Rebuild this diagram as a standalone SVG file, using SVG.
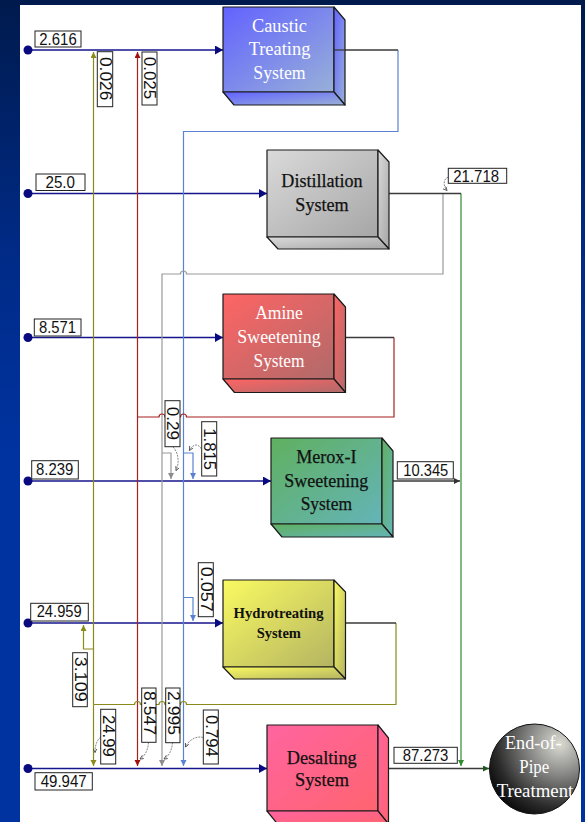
<svg xmlns="http://www.w3.org/2000/svg" width="585" height="822" viewBox="0 0 585 822">
  <defs>
    <linearGradient id="bg" x1="0" y1="0" x2="0" y2="1">
      <stop offset="0" stop-color="#001a4d"/>
      <stop offset="0.3" stop-color="#002a85"/>
      <stop offset="0.55" stop-color="#0033a0"/>
      <stop offset="1" stop-color="#0033a0"/>
    </linearGradient>
    <linearGradient id="gCaustic" x1="0" y1="0" x2="1" y2="1">
      <stop offset="0" stop-color="#6262ff"/>
      <stop offset="1" stop-color="#98b0d8"/>
    </linearGradient>
    <linearGradient id="gDist" x1="0" y1="0" x2="1" y2="1">
      <stop offset="0" stop-color="#dadada"/>
      <stop offset="1" stop-color="#a6a6a6"/>
    </linearGradient>
    <linearGradient id="gAmine" x1="0" y1="0" x2="1" y2="1">
      <stop offset="0" stop-color="#ff6464"/>
      <stop offset="1" stop-color="#b06a6a"/>
    </linearGradient>
    <linearGradient id="gMerox" x1="0" y1="0" x2="1" y2="1">
      <stop offset="0" stop-color="#60b060"/>
      <stop offset="1" stop-color="#64b4b8"/>
    </linearGradient>
    <linearGradient id="gHydro" x1="0" y1="0" x2="1" y2="1">
      <stop offset="0" stop-color="#fafa62"/>
      <stop offset="1" stop-color="#b4b462"/>
    </linearGradient>
    <linearGradient id="gDesalt" x1="0" y1="0" x2="1" y2="1">
      <stop offset="0" stop-color="#ff64a0"/>
      <stop offset="1" stop-color="#ff6470"/>
    </linearGradient>
    <radialGradient id="gPipe" cx="0.78" cy="0.22" r="0.95">
      <stop offset="0" stop-color="#dcdcd4"/>
      <stop offset="0.35" stop-color="#8a8a88"/>
      <stop offset="0.75" stop-color="#2a2a2a"/>
      <stop offset="1" stop-color="#000"/>
    </radialGradient>

    <marker id="aNavy" markerUnits="userSpaceOnUse" markerWidth="9" markerHeight="10" refX="8" refY="4.5" orient="auto">
      <path d="M0,0 L8,4.5 L0,9 z" fill="#0a0a80"/>
    </marker>
    <marker id="aBlue" markerUnits="userSpaceOnUse" markerWidth="7" markerHeight="7" refX="6" refY="3" orient="auto">
      <path d="M0,0 L6,3 L0,6 z" fill="#5b82d2"/>
    </marker>
    <marker id="aGray" markerUnits="userSpaceOnUse" markerWidth="7" markerHeight="7" refX="6" refY="3" orient="auto">
      <path d="M0,0 L6,3 L0,6 z" fill="#8c8c8c"/>
    </marker>
    <marker id="aOlive" markerUnits="userSpaceOnUse" markerWidth="7" markerHeight="7" refX="6" refY="3" orient="auto">
      <path d="M0,0 L6,3 L0,6 z" fill="#8a8a1a"/>
    </marker>
    <marker id="aRed" markerUnits="userSpaceOnUse" markerWidth="7" markerHeight="7" refX="6" refY="3" orient="auto">
      <path d="M0,0 L6,3 L0,6 z" fill="#a01010"/>
    </marker>
    <marker id="aGreen" markerUnits="userSpaceOnUse" markerWidth="7" markerHeight="7" refX="6" refY="3" orient="auto">
      <path d="M0,0 L6,3 L0,6 z" fill="#2e8b2e"/>
    </marker>
    <marker id="aDark" markerUnits="userSpaceOnUse" markerWidth="7" markerHeight="7" refX="6" refY="3" orient="auto">
      <path d="M0,0 L6,3 L0,6 z" fill="#333"/>
    </marker>
    <marker id="aDkGreen" markerUnits="userSpaceOnUse" markerWidth="7" markerHeight="7" refX="6" refY="3" orient="auto">
      <path d="M0,0 L6,3 L0,6 z" fill="#1e5a1e"/>
    </marker>
    <marker id="aLead" markerUnits="userSpaceOnUse" markerWidth="5" markerHeight="5" refX="4" refY="2" orient="auto">
      <path d="M0,0 L4,2 L0,4" fill="none" stroke="#444" stroke-width="0.8"/>
    </marker>
  </defs>

  <style>
    .panel { fill: #ffffff; }
    .face { stroke: #1a1a1a; stroke-width: 1.2; stroke-linejoin: round; }
    .t-white { font-family: "Liberation Serif", "Times New Roman", serif; font-size: 19.5px; fill: #ffffff; text-anchor: middle; }
    .t-black { font-family: "Liberation Serif", "Times New Roman", serif; font-size: 19.5px; fill: #111111; stroke: #111111; stroke-width: 0.25; text-anchor: middle; }
    .t-hydro { font-family: "Liberation Serif", "Times New Roman", serif; font-size: 15px; font-weight: bold; fill: #111111; text-anchor: middle; }
    .lbl rect { fill: #ffffff; stroke: #222; stroke-width: 1; }
    .lbl text { font-family: "Liberation Sans", Arial, sans-serif; font-size: 16.5px; fill: #111; }
    .feed { fill: none; stroke: #14148c; stroke-width: 1.5; }
    .out { fill: none; stroke: #3a3a3a; stroke-width: 1.3; }
    .blue { fill: none; stroke: #5b82d2; stroke-width: 1.2; }
    .gray { fill: none; stroke: #999999; stroke-width: 1.2; }
    .red { fill: none; stroke: #a82020; stroke-width: 1.2; }
    .olive { fill: none; stroke: #8a8a1a; stroke-width: 1.2; }
    .green { fill: none; stroke: #2e8b2e; stroke-width: 1.2; }
    .lead { fill: none; stroke: #555; stroke-width: 0.7; stroke-dasharray: 2 1; }
    .dot { fill: #0a0a80; }
  </style>

  <!-- background and white page -->
  <rect x="0" y="0" width="585" height="822" fill="url(#bg)"/>
  <rect class="panel" x="20" y="5" width="561" height="817"/>

  <!-- connectors -->
  <g id="connectors">
    <!-- feed streams -->
    <path class="feed" d="M28,50 H223" marker-end="url(#aNavy)"/>
    <path class="feed" d="M28,193.5 H267" marker-end="url(#aNavy)"/>
    <path class="feed" d="M28,337.5 H223" marker-end="url(#aNavy)"/>
    <path class="feed" d="M28,481 H271" marker-end="url(#aNavy)"/>
    <path class="feed" d="M28,623 H223" marker-end="url(#aNavy)"/>
    <path class="feed" d="M28,768.5 H267" marker-end="url(#aNavy)"/>
    <circle class="dot" cx="28" cy="50" r="4.5"/>
    <circle class="dot" cx="28" cy="193.5" r="4.5"/>
    <circle class="dot" cx="28" cy="337.5" r="4.5"/>
    <circle class="dot" cx="28" cy="481" r="4.5"/>
    <circle class="dot" cx="28" cy="623" r="4.5"/>
    <circle class="dot" cx="28" cy="768.5" r="4.5"/>

    <!-- caustic outlet (blue) -->
    <path class="blue" d="M398,50 V131.5 H183.5 V766" marker-end="url(#aBlue)"/>
    <path class="blue" d="M183.5,453 H193 V479" marker-end="url(#aBlue)"/>
    <path class="blue" d="M183.5,597.5 H193 V621" marker-end="url(#aBlue)"/>

    <!-- distillation outlet (gray recycle and green to treatment) -->
    <path class="gray" d="M443,193.5 V274 H186.5 A3,3 0 0 0 180.5,274 H162 V766" marker-end="url(#aGray)"/>
    <path class="gray" d="M162,453 H171 V479" marker-end="url(#aGray)"/>
    <path class="green" d="M461,193.5 V766" marker-end="url(#aGreen)"/>

    <!-- amine outlet (red) -->
    <path class="red" d="M394,337.5 V417 H186.5 A3,3 0 0 0 180.5,417 H165 A3,3 0 0 0 159,417 H137.5"/>
    <path class="red" d="M137.5,417 V52" marker-end="url(#aRed)"/>
    <path class="red" d="M137.5,417 V766" marker-end="url(#aRed)"/>

    <!-- hydrotreating outlet (olive) -->
    <path class="olive" d="M396,623 V704.5 H186.5 A3,3 0 0 0 180.5,704.5 H165 A3,3 0 0 0 159,704.5 H140.5 A3,3 0 0 0 134.5,704.5 H93.5"/>
    <path class="olive" d="M93.5,704.5 V52" marker-end="url(#aOlive)"/>
    <path class="olive" d="M93.5,704.5 V766" marker-end="url(#aOlive)"/>
    <path class="olive" d="M93.5,649 H83.5 V625" marker-end="url(#aOlive)"/>

    <!-- unit outlet stubs -->
    <path class="out" d="M334,50 H398"/>
    <path class="out" d="M388.7,193.5 H461"/>
    <path class="out" d="M345.7,337.5 H394"/>
    <path class="out" d="M393,481 H460" marker-end="url(#aDark)"/>
    <path class="out" d="M345.7,623 H396"/>
    <path class="out" d="M388.3,768.5 H489" stroke="#1e4a1e" marker-end="url(#aDkGreen)"/>

    <!-- leader curves from flow labels -->
    <path class="lead" d="M448.3,177 C443,179 443,186 447,190.5" marker-end="url(#aLead)"/>
    <path class="lead" d="M173,447 C178,452 180,462 176,470.5" marker-end="url(#aLead)"/>
    <path class="lead" d="M201.5,449 C198,443 193,444 189.5,450.5" marker-end="url(#aLead)"/>
    <path class="lead" d="M100.7,737 C96,741 95,747 95,752.5" marker-end="url(#aLead)"/>
    <path class="lead" d="M148.5,742.5 C148,750 145,756 140,759" marker-end="url(#aLead)"/>
    <path class="lead" d="M172.5,742.5 C172,750 169,756 164,759" marker-end="url(#aLead)"/>
    <path class="lead" d="M203.3,737.5 C196,735.5 189,740 185.5,747" marker-end="url(#aLead)"/>
  </g>

  <!-- process units -->
  <g id="caustic">
    <rect class="face" x="223" y="7" width="111" height="85" fill="url(#gCaustic)"/>
    <polygon class="face" points="334,7 345,20 345,105 334,92" fill="url(#gCaustic)"/>
    <polygon class="face" points="223,92 334,92 345,105 234,105" fill="url(#gCaustic)"/>
    <path class="out" d="M334,50 H345"/>
    <text class="t-white" x="279.5" y="31.5" textLength="55" lengthAdjust="spacingAndGlyphs">Caustic</text>
    <text class="t-white" x="279.5" y="55" textLength="61.7" lengthAdjust="spacingAndGlyphs">Treating</text>
    <text class="t-white" x="279.5" y="78.5" textLength="52.4" lengthAdjust="spacingAndGlyphs">System</text>
  </g>

  <g id="distillation">
    <rect class="face" x="267" y="150" width="111" height="87" fill="url(#gDist)"/>
    <polygon class="face" points="378,150 389,162 389,249 378,237" fill="url(#gDist)"/>
    <polygon class="face" points="267,237 378,237 389,249 278,249" fill="url(#gDist)"/>
    <text class="t-black" x="322" y="187.3" textLength="81.3" lengthAdjust="spacingAndGlyphs">Distillation</text>
    <text class="t-black" x="322" y="211" textLength="53.3" lengthAdjust="spacingAndGlyphs">System</text>
  </g>

  <g id="amine">
    <rect class="face" x="223" y="294" width="111" height="85" fill="url(#gAmine)"/>
    <polygon class="face" points="334,294 345.5,307 345.5,392.5 334,379" fill="url(#gAmine)"/>
    <polygon class="face" points="223,379 334,379 345.5,392.5 234.5,392.5" fill="url(#gAmine)"/>
    <text class="t-white" x="279" y="319.3" textLength="47.7" lengthAdjust="spacingAndGlyphs">Amine</text>
    <text class="t-white" x="279" y="343.3" textLength="83.3" lengthAdjust="spacingAndGlyphs">Sweetening</text>
    <text class="t-white" x="279" y="367" textLength="51" lengthAdjust="spacingAndGlyphs">System</text>
  </g>

  <g id="merox">
    <rect class="face" x="271" y="438" width="111" height="86" fill="url(#gMerox)"/>
    <polygon class="face" points="382,438 393,451 393,537 382,524" fill="url(#gMerox)"/>
    <polygon class="face" points="271,524 382,524 393,537 282,537" fill="url(#gMerox)"/>
    <text class="t-black" x="326.3" y="462.7" textLength="60.3" lengthAdjust="spacingAndGlyphs">Merox-I</text>
    <text class="t-black" x="326.3" y="487.3" textLength="84" lengthAdjust="spacingAndGlyphs">Sweetening</text>
    <text class="t-black" x="326.3" y="510" textLength="51.3" lengthAdjust="spacingAndGlyphs">System</text>
  </g>

  <g id="hydrotreating">
    <rect class="face" x="223" y="580" width="111" height="87" fill="url(#gHydro)"/>
    <polygon class="face" points="334,580 345.5,592 345.5,679 334,667" fill="url(#gHydro)"/>
    <polygon class="face" points="223,667 334,667 345.5,679 234.5,679" fill="url(#gHydro)"/>
    <text class="t-hydro" x="278.5" y="618.3" textLength="90" lengthAdjust="spacingAndGlyphs">Hydrotreating</text>
    <text class="t-hydro" x="278.8" y="638.3" textLength="44.3" lengthAdjust="spacingAndGlyphs">System</text>
  </g>

  <g id="desalting">
    <rect class="face" x="267" y="725" width="111" height="86" fill="url(#gDesalt)"/>
    <polygon class="face" points="378,725 388.5,738 388.5,824 378,811" fill="url(#gDesalt)"/>
    <polygon class="face" points="267,811 378,811 388.5,824 277.5,824" fill="url(#gDesalt)"/>
    <text class="t-black" x="321.7" y="764" textLength="70" lengthAdjust="spacingAndGlyphs">Desalting</text>
    <text class="t-black" x="322" y="785.7" textLength="54" lengthAdjust="spacingAndGlyphs">System</text>
  </g>

  <g id="end-of-pipe">
    <circle cx="534.5" cy="769" r="45" fill="url(#gPipe)" stroke="#111" stroke-width="1"/>
    <text class="t-white" x="533.3" y="749.3" textLength="56.7" lengthAdjust="spacingAndGlyphs">End-of-</text>
    <text class="t-white" x="534.3" y="773.3" textLength="30" lengthAdjust="spacingAndGlyphs">Pipe</text>
    <text class="t-white" x="535" y="796.7" textLength="76.6" lengthAdjust="spacingAndGlyphs">Treatment</text>
  </g>

  <!-- flow labels -->
  <g id="flow-labels" class="lbl">
    <rect x="35" y="31" width="46" height="16"/>
    <text x="39.3" y="45" textLength="37.4" lengthAdjust="spacingAndGlyphs">2.616</text>
    <rect x="36" y="174" width="49" height="16.5"/>
    <text x="45.5" y="188" textLength="29.5" lengthAdjust="spacingAndGlyphs">25.0</text>
    <rect x="34.3" y="319" width="46.7" height="17"/>
    <text x="39" y="332.7" textLength="37" lengthAdjust="spacingAndGlyphs">8.571</text>
    <rect x="31.7" y="460.7" width="46.6" height="18.3"/>
    <text x="36" y="475" textLength="37.3" lengthAdjust="spacingAndGlyphs">8.239</text>
    <rect x="30.7" y="603.3" width="57.6" height="17.7"/>
    <text x="36.7" y="617.3" textLength="45" lengthAdjust="spacingAndGlyphs">24.959</text>
    <rect x="35" y="772.7" width="57.3" height="17.3"/>
    <text x="40.7" y="786.7" textLength="46" lengthAdjust="spacingAndGlyphs">49.947</text>
    <rect x="448.3" y="168.3" width="58.4" height="15"/>
    <text x="453.3" y="181.7" textLength="45.7" lengthAdjust="spacingAndGlyphs">21.718</text>
    <rect x="397.3" y="461.7" width="56" height="17.3"/>
    <text x="403.3" y="475.5" textLength="45" lengthAdjust="spacingAndGlyphs">10.345</text>
    <rect x="394" y="747.3" width="63.3" height="16"/>
    <text x="402.7" y="760.5" textLength="45.6" lengthAdjust="spacingAndGlyphs">87.273</text>

    <!-- vertical labels -->
    <rect x="97.3" y="51.7" width="15.4" height="55"/>
    <text transform="translate(99.6,57) rotate(90)" textLength="43.3" lengthAdjust="spacingAndGlyphs">0.026</text>
    <rect x="142" y="52" width="15" height="53"/>
    <text transform="translate(144.2,56.7) rotate(90)" textLength="42.6" lengthAdjust="spacingAndGlyphs">0.025</text>
    <rect x="165" y="400.7" width="15" height="46"/>
    <text transform="translate(167.2,406.7) rotate(90)" textLength="33.3" lengthAdjust="spacingAndGlyphs">0.29</text>
    <rect x="201.7" y="421.7" width="15" height="54.3"/>
    <text transform="translate(203.9,428.3) rotate(90)" textLength="41.7" lengthAdjust="spacingAndGlyphs">1.815</text>
    <rect x="198.3" y="562.7" width="15" height="54"/>
    <text transform="translate(200.5,566.7) rotate(90)" textLength="45" lengthAdjust="spacingAndGlyphs">0.057</text>
    <rect x="72.7" y="652.7" width="14.6" height="54"/>
    <text transform="translate(74.8,656.7) rotate(90)" textLength="45" lengthAdjust="spacingAndGlyphs">3.109</text>
    <rect x="100.7" y="709.3" width="15" height="54.7"/>
    <text transform="translate(102.9,715) rotate(90)" textLength="41.7" lengthAdjust="spacingAndGlyphs">24.99</text>
    <rect x="141.7" y="688" width="14.3" height="54.3"/>
    <text transform="translate(143.6,691) rotate(90)" textLength="44" lengthAdjust="spacingAndGlyphs">8.547</text>
    <rect x="165.7" y="688" width="14.3" height="54.7"/>
    <text transform="translate(167.6,691) rotate(90)" textLength="44" lengthAdjust="spacingAndGlyphs">2.995</text>
    <rect x="203.3" y="710" width="15" height="54"/>
    <text transform="translate(205.5,715) rotate(90)" textLength="41.7" lengthAdjust="spacingAndGlyphs">0.794</text>
  </g>
</svg>
